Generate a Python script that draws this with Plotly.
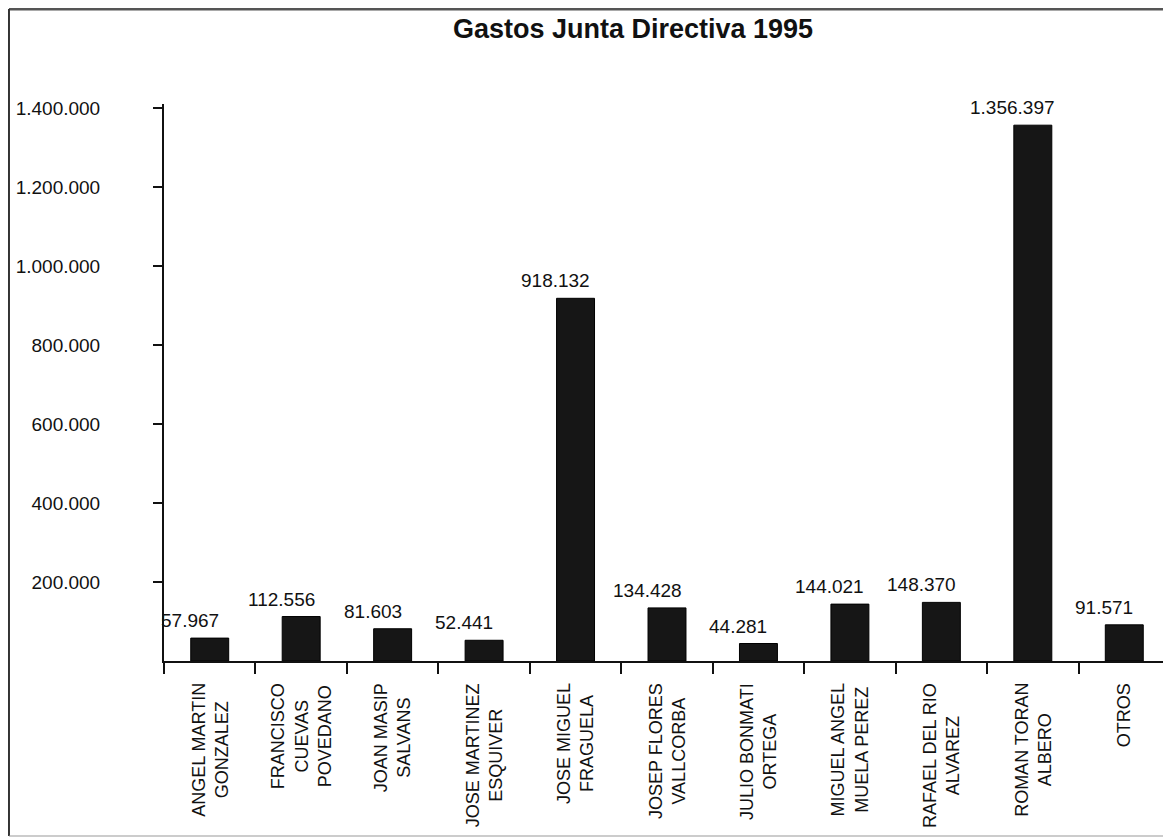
import plotly.graph_objects as go

categories = [
    "ANGEL MARTIN<br>GONZALEZ",
    "FRANCISCO<br>CUEVAS<br>POVEDANO",
    "JOAN MASIP<br>SALVANS",
    "JOSE MARTINEZ<br>ESQUIVER",
    "JOSE MIGUEL<br>FRAGUELA",
    "JOSEP FLORES<br>VALLCORBA",
    "JULIO BONMATI<br>ORTEGA",
    "MIGUEL ANGEL<br>MUELA PEREZ",
    "RAFAEL DEL RIO<br>ALVAREZ",
    "ROMAN TORAN<br>ALBERO",
    "OTROS",
]
gastos = [57967, 112556, 81603, 52441, 918132, 134428, 44281, 144021, 148370, 1356397, 91571]
y_ticks = [200000, 400000, 600000, 800000, 1000000, 1200000, 1400000]

FONT = "Liberation Sans, Arial, sans-serif"
INK = "#111111"

fig = go.Figure()
fig.add_trace(go.Bar(
    x=categories,
    y=gastos,
    width=0.415,
    marker=dict(color="#161616", line=dict(color="#000000", width=1)),
    showlegend=False,
    hoverinfo="x+y",
))

# value labels above bars (slightly left of centre, as in the original)
for c, v in zip(categories, gastos):
    fig.add_annotation(
        x=c, y=v, xref="x", yref="y",
        text=f"{v:,}".replace(",", "."),
        showarrow=False, xanchor="center", yanchor="bottom",
        xshift=-20, yshift=5,
        font=dict(family=FONT, size=19, color=INK),
    )

# category labels, rotated and centred line by line
for c in categories:
    fig.add_annotation(
        x=c, y=-0.036, xref="x", yref="paper",
        text=c, textangle=-90, align="center",
        showarrow=False, xanchor="center", yanchor="top",
        font=dict(family=FONT, size=18, color=INK),
    )

fig.update_layout(
    width=1163,
    height=832,
    separators=",.",
    paper_bgcolor="white",
    plot_bgcolor="white",
    margin=dict(l=156, r=1, t=96, b=179, autoexpand=False),
    title=dict(
        text="<b>Gastos Junta Directiva 1995</b>",
        xref="container", yref="container",
        x=0.5374, xanchor="center", y=0.9748, yanchor="middle",
        font=dict(family=FONT, size=27, color=INK),
    ),
    font=dict(family=FONT, color=INK),
)

fig.update_xaxes(
    type="category",
    range=[-0.5, 10.5],
    showline=True, linecolor=INK, linewidth=2,
    ticks="outside", tickson="boundaries", ticklen=11, tickwidth=2, tickcolor=INK,
    showticklabels=False,
    showgrid=False, zeroline=False,
)
fig.update_yaxes(
    range=[0, 1410000],
    tickvals=y_ticks,
    tickformat=",",
    showline=True, linecolor=INK, linewidth=2,
    ticks="outside", ticklen=9, tickwidth=2, tickcolor=INK,
    ticklabelstandoff=49,
    tickfont=dict(family=FONT, size=19, color=INK),
    showgrid=False, zeroline=False,
)

# outer frame around the chart (right side falls outside the page)
X_LEFT, X_RIGHT, Y_TOP, Y_BOTTOM = -0.1541, 1.01, 1.1706, -0.3142
fig.add_shape(type="line", xref="paper", yref="paper",
              x0=X_LEFT, x1=X_RIGHT, y0=Y_TOP, y1=Y_TOP,
              line=dict(color="#555555", width=3), layer="below")
fig.add_shape(type="line", xref="paper", yref="paper",
              x0=X_LEFT, x1=X_LEFT, y0=Y_BOTTOM, y1=Y_TOP,
              line=dict(color="#333333", width=2), layer="below")
fig.add_shape(type="line", xref="paper", yref="paper",
              x0=X_LEFT, x1=X_RIGHT, y0=Y_BOTTOM, y1=Y_BOTTOM,
              line=dict(color="#999999", width=1), layer="below")

fig.write_html("out.html")
